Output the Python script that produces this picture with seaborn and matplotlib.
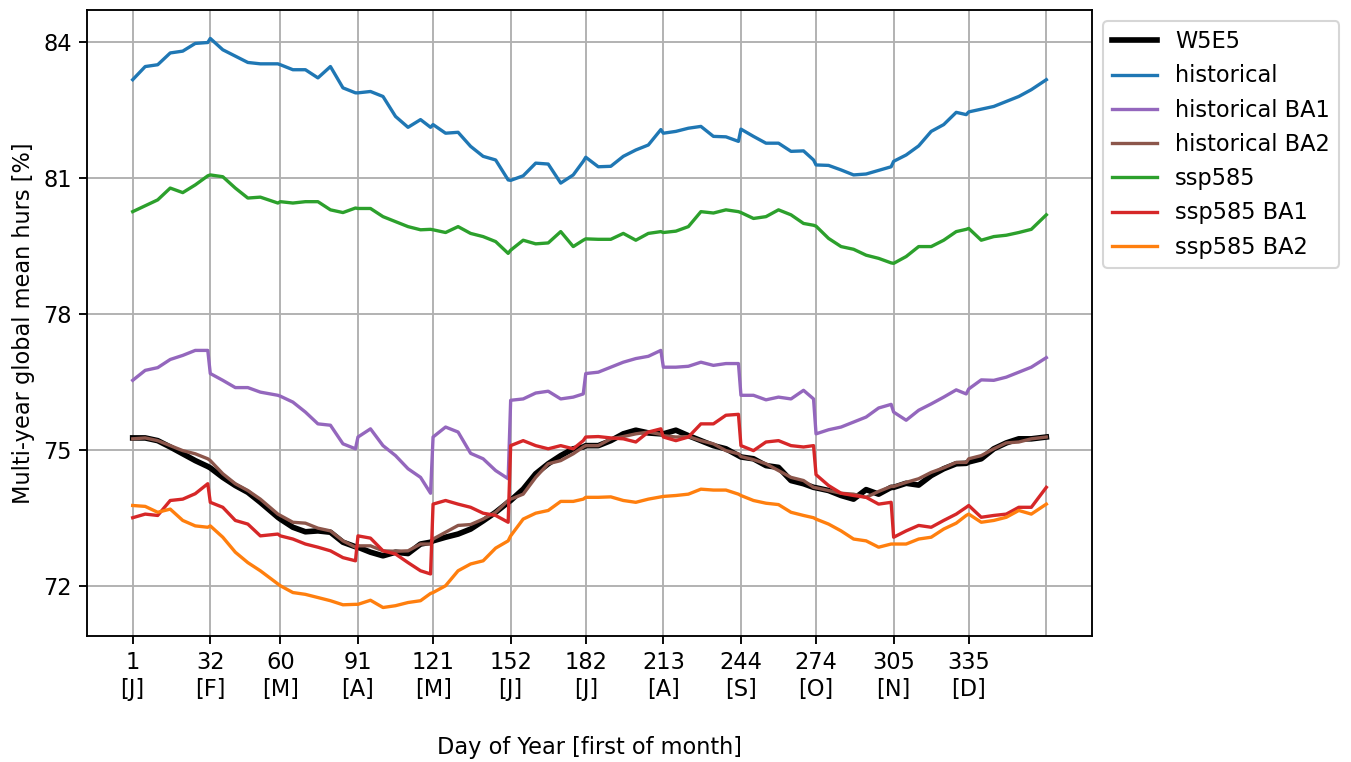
import numpy as np
import pandas as pd
import matplotlib
matplotlib.use('Agg')
import matplotlib.pyplot as plt
import seaborn as sns

plt.rcParams['font.size'] = 10.8

# sampled days of year (first/last day of each month kept so the BA jumps stay sharp)
days = [1, 6, 11, 16, 21, 26, 31,
        32, 37, 42, 47, 52, 59,
        60, 65, 70, 75, 80, 85, 90,
        91, 96, 101, 106, 111, 116, 120,
        121, 126, 131, 136, 141, 146, 151,
        152, 157, 162, 167, 172, 177, 181,
        182, 187, 192, 197, 202, 207, 212,
        213, 218, 223, 228, 233, 238, 243,
        244, 249, 254, 259, 264, 269, 273,
        274, 279, 284, 289, 294, 299, 304,
        305, 310, 315, 320, 325, 330, 334,
        335, 340, 345, 350, 355, 360, 366]

w5e5 = [75.26, 75.26, 75.20, 75.06, 74.91, 74.76, 74.63,
        74.60, 74.39, 74.21, 74.06, 73.84, 73.51,
        73.47, 73.29, 73.19, 73.21, 73.18, 72.96, 72.86,
        72.85, 72.74, 72.66, 72.74, 72.71, 72.92, 72.96,
        72.99, 73.07, 73.14, 73.25, 73.43, 73.62, 73.84,
        73.88, 74.13, 74.47, 74.69, 74.87, 75.02, 75.06,
        75.09, 75.09, 75.20, 75.35, 75.43, 75.37, 75.35,
        75.35, 75.43, 75.31, 75.20, 75.09, 75.02, 74.87,
        74.84, 74.80, 74.65, 74.61, 74.32, 74.25, 74.17,
        74.16, 74.10, 73.99, 73.91, 74.12, 74.02, 74.17,
        74.17, 74.26, 74.22, 74.43, 74.58, 74.69, 74.70,
        74.73, 74.80, 75.02, 75.15, 75.24, 75.24, 75.28]

historical = [83.16, 83.45, 83.49, 83.75, 83.79, 83.96, 83.98,
              84.07, 83.82, 83.68, 83.54, 83.51, 83.51,
              83.49, 83.38, 83.38, 83.20, 83.45, 82.98, 82.87,
              82.87, 82.90, 82.79, 82.35, 82.11, 82.28, 82.11,
              82.17, 81.98, 82.00, 81.69, 81.47, 81.39, 80.95,
              80.94, 81.04, 81.32, 81.30, 80.88, 81.06, 81.36,
              81.45, 81.24, 81.25, 81.47, 81.61, 81.72, 82.06,
              81.98, 82.02, 82.09, 82.13, 81.91, 81.90, 81.80,
              82.07, 81.91, 81.76, 81.76, 81.58, 81.59, 81.39,
              81.28, 81.27, 81.17, 81.06, 81.08, 81.16, 81.24,
              81.36, 81.50, 81.70, 82.02, 82.17, 82.44, 82.39,
              82.45, 82.51, 82.57, 82.68, 82.79, 82.94, 83.16]

historical_ba1 = [76.53, 76.75, 76.81, 76.99, 77.08, 77.19, 77.19,
                  76.68, 76.53, 76.37, 76.37, 76.27, 76.20,
                  76.18, 76.05, 75.83, 75.57, 75.54, 75.13, 75.02,
                  75.28, 75.46, 75.09, 74.87, 74.58, 74.39, 74.04,
                  75.28, 75.50, 75.39, 74.92, 74.80, 74.54, 74.36,
                  76.09, 76.12, 76.25, 76.29, 76.12, 76.16, 76.23,
                  76.68, 76.71, 76.82, 76.93, 77.01, 77.06, 77.19,
                  76.82, 76.82, 76.84, 76.93, 76.86, 76.90, 76.90,
                  76.20, 76.20, 76.10, 76.16, 76.12, 76.31, 76.12,
                  75.35, 75.44, 75.50, 75.61, 75.72, 75.92, 76.00,
                  75.83, 75.65, 75.87, 76.01, 76.16, 76.32, 76.23,
                  76.34, 76.54, 76.53, 76.60, 76.71, 76.82, 77.03]

historical_ba2 = [75.24, 75.26, 75.20, 75.09, 74.98, 74.91, 74.80,
                  74.76, 74.47, 74.25, 74.10, 73.91, 73.58,
                  73.55, 73.40, 73.38, 73.27, 73.21, 72.99, 72.85,
                  72.88, 72.88, 72.77, 72.76, 72.77, 72.92, 72.92,
                  73.03, 73.18, 73.33, 73.35, 73.47, 73.62, 73.88,
                  73.91, 74.02, 74.39, 74.69, 74.76, 74.91, 75.06,
                  75.09, 75.09, 75.24, 75.29, 75.35, 75.39, 75.34,
                  75.31, 75.28, 75.29, 75.20, 75.13, 74.98, 74.91,
                  74.85, 74.78, 74.69, 74.54, 74.39, 74.32, 74.17,
                  74.16, 74.10, 74.04, 74.02, 73.95, 74.08, 74.19,
                  74.19, 74.28, 74.36, 74.50, 74.60, 74.72, 74.72,
                  74.80, 74.87, 75.02, 75.15, 75.17, 75.24, 75.28]

ssp585 = [80.25, 80.38, 80.51, 80.77, 80.67, 80.84, 81.04,
          81.06, 81.02, 80.77, 80.55, 80.57, 80.44,
          80.47, 80.44, 80.47, 80.47, 80.29, 80.23, 80.33,
          80.32, 80.32, 80.14, 80.03, 79.92, 79.85, 79.86,
          79.85, 79.79, 79.92, 79.77, 79.70, 79.59, 79.33,
          79.40, 79.62, 79.54, 79.56, 79.81, 79.48, 79.62,
          79.65, 79.64, 79.64, 79.77, 79.62, 79.77, 79.81,
          79.79, 79.82, 79.92, 80.25, 80.22, 80.29, 80.25,
          80.23, 80.10, 80.14, 80.29, 80.18, 79.99, 79.95,
          79.93, 79.66, 79.48, 79.42, 79.29, 79.22, 79.12,
          79.11, 79.26, 79.48, 79.48, 79.62, 79.81, 79.86,
          79.88, 79.62, 79.70, 79.73, 79.79, 79.86, 80.18]

ssp585_ba1 = [73.50, 73.58, 73.55, 73.88, 73.91, 74.03, 74.25,
              73.84, 73.73, 73.44, 73.36, 73.10, 73.14,
              73.10, 73.03, 72.92, 72.85, 72.77, 72.62, 72.55,
              73.10, 73.05, 72.77, 72.70, 72.51, 72.33, 72.26,
              73.80, 73.88, 73.80, 73.73, 73.60, 73.55, 73.40,
              75.09, 75.20, 75.09, 75.02, 75.09, 75.02, 75.20,
              75.28, 75.29, 75.26, 75.24, 75.17, 75.39, 75.46,
              75.28, 75.20, 75.28, 75.57, 75.57, 75.76, 75.78,
              75.09, 74.98, 75.17, 75.20, 75.09, 75.06, 75.09,
              74.45, 74.21, 74.04, 73.99, 73.95, 73.80, 73.84,
              73.07, 73.21, 73.33, 73.29, 73.44, 73.58, 73.73,
              73.77, 73.51, 73.55, 73.58, 73.73, 73.73, 74.17]

ssp585_ba2 = [73.77, 73.75, 73.62, 73.69, 73.44, 73.32, 73.29,
              73.32, 73.07, 72.74, 72.51, 72.33, 72.04,
              72.00, 71.85, 71.81, 71.74, 71.67, 71.58, 71.59,
              71.59, 71.68, 71.52, 71.56, 71.63, 71.67, 71.83,
              71.85, 72.00, 72.33, 72.48, 72.55, 72.83, 72.99,
              73.10, 73.47, 73.60, 73.66, 73.86, 73.86, 73.91,
              73.95, 73.95, 73.96, 73.88, 73.84, 73.91, 73.96,
              73.97, 73.99, 74.02, 74.13, 74.11, 74.11, 74.02,
              73.99, 73.88, 73.82, 73.79, 73.62, 73.55, 73.50,
              73.47, 73.36, 73.21, 73.03, 72.99, 72.85, 72.92,
              72.92, 72.92, 73.03, 73.07, 73.25, 73.38, 73.55,
              73.58, 73.40, 73.44, 73.51, 73.66, 73.58, 73.80]

month_starts = [1, 32, 60, 91, 121, 152, 182, 213, 244, 274, 305, 335]
month_letters = ['J', 'F', 'M', 'A', 'M', 'J', 'J', 'A', 'S', 'O', 'N', 'D']

series = [('W5E5', w5e5, 'black', 2.7),
          ('historical', historical, 'tab:blue', 1.6),
          ('historical BA1', historical_ba1, 'tab:purple', 1.6),
          ('historical BA2', historical_ba2, 'tab:brown', 1.6),
          ('ssp585', ssp585, 'tab:green', 1.6),
          ('ssp585 BA1', ssp585_ba1, 'tab:red', 1.6),
          ('ssp585 BA2', ssp585_ba2, 'tab:orange', 1.6)]

fig, ax = plt.subplots(figsize=(1351 / 150, 762 / 150), dpi=150)
fig.subplots_adjust(left=0.0644, right=0.8083, bottom=0.1654, top=0.9869)

for name, vals, col, lw in series:
    df = pd.DataFrame({'day': days, 'hurs': vals})
    sns.lineplot(data=df, x='day', y='hurs', ax=ax, color=col, linewidth=lw, label=name)

ax.set_xticks(month_starts)
ax.set_xticklabels([f'{d}\n[{m}]' for d, m in zip(month_starts, month_letters)])
ax.set_yticks([72, 75, 78, 81, 84])
ax.grid(True, color='#b0b0b0', linewidth=0.9)
ax.axvline(366, color='#b0b0b0', linewidth=0.9, zorder=0.5)
ax.set_axisbelow(True)
ax.tick_params(length=3.8, width=0.9)
for sp in ax.spines.values():
    sp.set_linewidth(0.9)

ax.set_xlabel('Day of Year [first of month]', labelpad=17)
ax.set_ylabel('Multi-year global mean hurs [%]')
ax.legend(loc='upper left', bbox_to_anchor=(1, 1))

fig.savefig('out.png', dpi=150)
